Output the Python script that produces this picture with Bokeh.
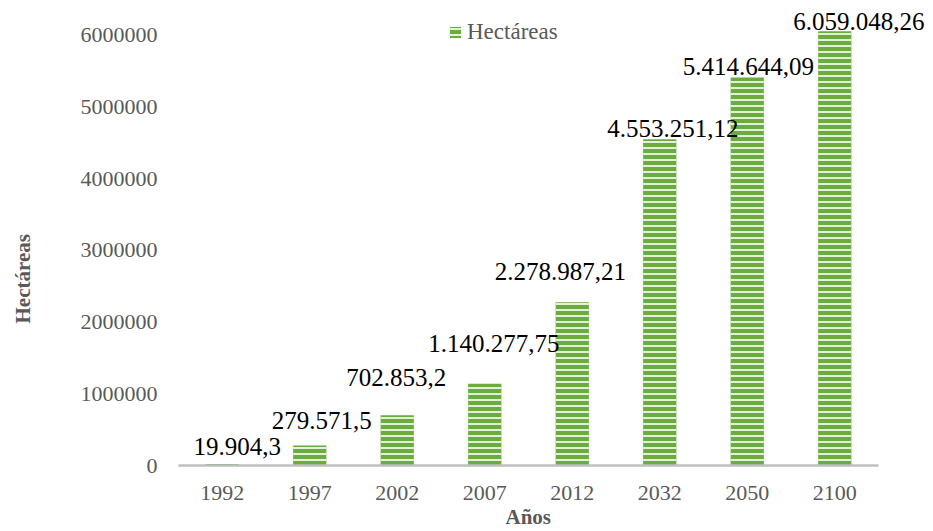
from bokeh.plotting import figure
from bokeh.models import (ColumnDataSource, Range1d, Legend, Title,
                          LegendItem, FixedTicker, NumeralTickFormatter)
from bokeh.core.properties import value
from bokeh.embed import file_html
from bokeh.resources import INLINE

# ---- data ----
years = ["1992", "1997", "2002", "2007", "2012", "2032", "2050", "2100"]
hectareas = [19904.3, 279571.5, 702853.2, 1140277.75, 2278987.21, 4553251.12, 5414644.09, 6059048.26]
value_labels = ["19.904,3", "279.571,5", "702.853,2", "1.140.277,75", "2.278.987,21",
                "4.553.251,12", "5.414.644,09", "6.059.048,26"]
y_ticks = [0, 1000000, 2000000, 3000000, 4000000, 5000000, 6000000]
series_name = "Hectáreas"
x_title = "Años"
y_title = "Hectáreas"

# label placement tweaks (screen px, y down), styling only
label_dx = [15, 12, -1, 9, -12, 13, 1, 24]
label_dy = [-18, -25, -38, -40, -31, -11, -11, -10]

FONT = "Liberation Serif"
GREEN = "#6aad3e"
STRIPE = "#e4f1da"
GREY_TXT = "#595959"

# category slot positions (one slot per year)
xpos = [i + 0.5 for i in range(len(years))]
n_slots = len(years)

src = ColumnDataSource(dict(x=xpos, year=years, val=hectareas, lab=value_labels,
                            dx=label_dx, dy=label_dy))

FRAME_W = 750
SLOT_PX = 87.5
FRAME_H = 465
PX_PER_MILLION = 71.67
p = figure(frame_width=FRAME_W, frame_height=FRAME_H,
           x_range=Range1d(0, FRAME_W / SLOT_PX),
           y_range=Range1d(0, FRAME_H / PX_PER_MILLION * 1e6),
           output_backend="svg", toolbar_location=None,
           min_border_left=178, min_border_right=0, min_border_top=0, min_border_bottom=0)
p.outline_line_color = None
p.background_fill_color = "white"
p.xgrid.grid_line_color = None
p.ygrid.grid_line_color = None

bars = p.vbar(x="x", top="val", width=0.38, source=src, fill_color=GREEN,
              line_color=None, hatch_pattern="horizontal_line", hatch_color=STRIPE,
              hatch_scale=6, hatch_weight=2)

p.text(x="x", y="val", text="lab", source=src, x_offset="dx", y_offset="dy",
       text_align="center", text_baseline="alphabetic", text_font=value(FONT),
       text_font_size="25px", text_color="black")

# y axis
p.yaxis.ticker = FixedTicker(ticks=y_ticks)
p.yaxis.formatter = NumeralTickFormatter(format="0")
p.yaxis.axis_line_color = None
p.yaxis.major_tick_line_color = None
p.yaxis.minor_tick_line_color = None
p.yaxis.major_tick_out = 0
p.yaxis.minor_tick_out = 0
p.yaxis.major_label_standoff = 21
p.yaxis.major_label_text_font = FONT
p.yaxis.major_label_text_font_size = "22px"
p.yaxis.major_label_text_color = GREY_TXT

# x axis
p.xaxis.ticker = FixedTicker(ticks=xpos)
p.xaxis.major_label_overrides = {x: y for x, y in zip(xpos, years)}
p.xaxis.bounds = (0, n_slots)
p.xaxis.axis_line_color = "#bfbfbf"
p.xaxis.axis_line_width = 2.5
p.xaxis.major_tick_line_color = None
p.xaxis.minor_tick_line_color = None
p.xaxis.major_tick_out = 0
p.xaxis.minor_tick_out = 0
p.xaxis.major_label_standoff = 20
p.xaxis.major_label_text_font = FONT
p.xaxis.major_label_text_font_size = "22px"
p.xaxis.major_label_text_color = GREY_TXT

# axis titles
xt = Title(text=x_title, align="left", offset=327, standoff=0,
           text_font=FONT, text_font_size="21px", text_font_style="bold",
           text_color=GREY_TXT)
p.add_layout(xt, "below")
# blank spacer between y tick labels and the y title
spacer = Title(text=" ", standoff=38, text_font_size="1px", text_color="white")
p.add_layout(spacer, "left")
yt = Title(text=y_title, align="left", vertical_align="top", offset=142, standoff=0,
           text_font=FONT, text_font_size="21px", text_font_style="bold",
           text_color=GREY_TXT)
p.add_layout(yt, "left")

legend = Legend(items=[LegendItem(label=series_name, renderers=[bars])],
                location=(270, 420), orientation="horizontal",
                border_line_color=None, background_fill_alpha=0,
                padding=0, margin=0, spacing=0,
                glyph_width=14, glyph_height=14, label_standoff=5,
                label_text_font=FONT, label_text_font_size="23px",
                label_text_color=GREY_TXT)
p.add_layout(legend)

open("out.html", "w").write(file_html(p, INLINE))
